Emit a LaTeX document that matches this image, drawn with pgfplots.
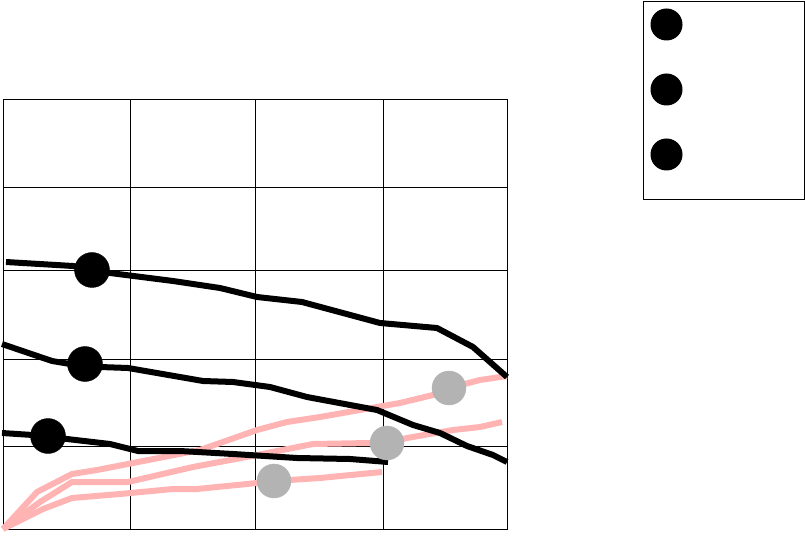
\documentclass[border=0pt]{standalone}
\usepackage{pgfplots}
\pgfplotsset{compat=1.18}
\definecolor{pinkline}{RGB}{255,179,179}
\definecolor{greymark}{RGB}{179,179,179}
\begin{document}
\begin{tikzpicture}
\useasboundingbox (-3pt,-7pt) rectangle (802pt,529pt);
\begin{axis}[
  x=1pt, y=1pt,
  xmin=3, xmax=507, ymin=0, ymax=429,
  clip=false,
  axis line style={line width=1pt},
  xtick={130,255,383}, ytick={83,170,259,342},
  xticklabels={}, yticklabels={},
  major tick length=0pt,
  grid=major,
  grid style={black, line width=0.9pt, solid},
  legend style={at={(1.26984,1.23077)}, anchor=north west, draw=black, line width=1pt,
    inner xsep=0pt, inner ysep=0pt, column sep=0pt, row sep=0pt,
    nodes={inner sep=0pt, text depth=0pt, draw=none}},
]
% pink lines
\addplot[pinkline, line width=6pt, line join=round, forget plot] coordinates {
(3,0) (37,37) (72,55) (97,59) (133,66) (200,79) (257,99) (287,107) (320,112) (377,122) (400,126) (433,134) (449,141) (480,149) (507,153)};
\addplot[pinkline, line width=6pt, line join=round, forget plot] coordinates {
(3,0) (40,27) (72,47) (128,47) (193,62) (257,74) (313,85) (370,86) (387,86) (407,91) (453,99) (480,102) (502,107)};
\addplot[pinkline, line width=6pt, line join=round, forget plot] coordinates {
(3,0) (43,20) (72,31) (120,35) (173,40) (197,40) (257,46) (274,48) (320,51) (382,57)};
% black lines
\addplot[black, line width=6pt, line join=round, forget plot] coordinates {
(6,267) (73,263) (92,259) (110,256) (173,248) (220,241) (257,232) (302,227) (380,206) (437,201) (473,182) (507,152)};
\addplot[black, line width=6pt, line join=round, forget plot] coordinates {
(2,185) (52,168) (70,165) (85,165) (100,162) (128,161) (203,148) (233,147) (270,142) (307,132) (377,119) (413,104) (440,96) (467,83) (493,74) (507,67)};
\addplot[black, line width=6pt, line join=round, forget plot] coordinates {
(2,96) (48,93) (67,90) (110,85) (138,78) (180,78) (233,75) (297,71) (350,70) (388,67)};
% black markers
\addplot[black, only marks, mark=*, mark size=17.5pt, mark options={draw=none, fill=black}, forget plot] coordinates {
(92,259) (85,165) (48,93)};
% grey markers
\addplot[greymark, only marks, mark=*, mark size=17pt, mark options={draw=none, fill=greymark}, forget plot] coordinates {
(449,141) (387,86) (274,48)};
% legend
\addlegendimage{legend image code/.code={\path[draw=none, fill=none] (0pt,-42pt) rectangle (46pt,23pt); \fill[black] (23pt,0pt) circle (15.5pt);}}
\addlegendentry{\rule{115pt}{0pt}}
\addlegendimage{legend image code/.code={\path[draw=none, fill=none] (0pt,-42pt) rectangle (46pt,23pt); \fill[black] (23pt,0pt) circle (15.5pt);}}
\addlegendentry{\rule{115pt}{0pt}}
\addlegendimage{legend image code/.code={\path[draw=none, fill=none] (0pt,-45pt) rectangle (46pt,23pt); \fill[black] (23pt,0pt) circle (15.5pt);}}
\addlegendentry{\rule{115pt}{0pt}}
\end{axis}
\end{tikzpicture}
\end{document}
